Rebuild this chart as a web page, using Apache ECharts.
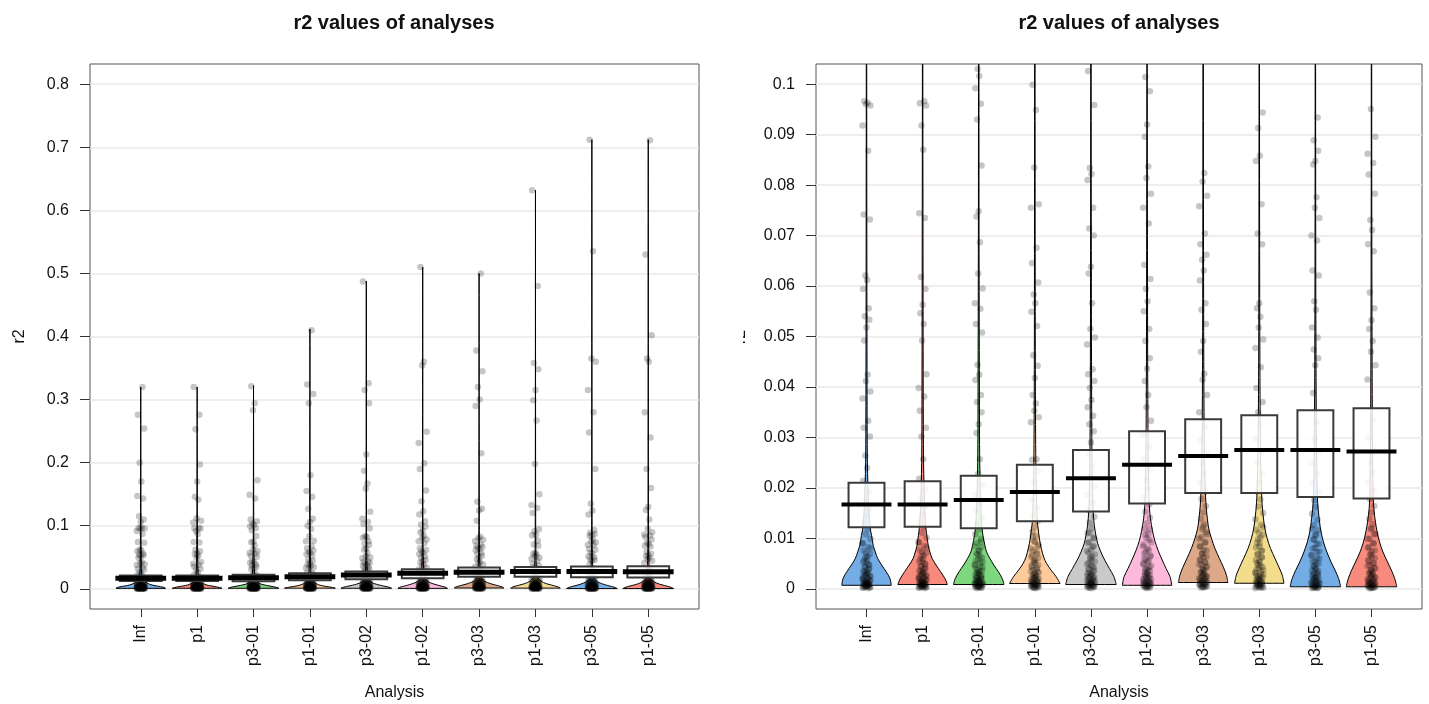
<!DOCTYPE html>
<html><head><meta charset="utf-8">
<script src="https://cdn.jsdelivr.net/npm/echarts@6/dist/echarts.min.js"></script>
<style>html,body{margin:0;padding:0;background:#fff}#c{width:1429px;height:704px}</style>
</head><body><div id="c"></div>
<script>
// ---------------- data ----------------
const categories = ['Inf','p1','p3-01','p1-01','p3-02','p1-02','p3-03','p1-03','p3-05','p1-05'];
// average line (mean) and inference band
const meanValues = [0.0167,0.0167,0.0176,0.0192,0.0219,0.0246,0.0263,0.0275,0.0275,0.0272];
const bandLow    = [0.0122,0.0123,0.0120,0.0134,0.0153,0.0169,0.0190,0.0190,0.0182,0.0179];
const bandHigh   = [0.0210,0.0213,0.0224,0.0246,0.0275,0.0312,0.0336,0.0344,0.0354,0.0358];
const maxValues  = [0.320,0.320,0.322,0.412,0.488,0.510,0.500,0.632,0.712,0.712];

// bean (violin) outline: [r2 value, half width in category units]
const beanInf  = [[0.0007,0.44],[0.0020,0.42],[0.0034,0.35],[0.0047,0.27],[0.0060,0.20],[0.0073,0.157],[0.0086,0.12],[0.0106,0.09],[0.0119,0.068],[0.016,0.04],[0.025,0.016],[0.04,0.01],[0.07,0.006],[0.1,0.004],[0.2,0.002]];
const beanP1   = [[0.00085,0.44],[0.0020,0.40],[0.0034,0.32],[0.0047,0.24],[0.0060,0.17],[0.0073,0.13],[0.0086,0.10],[0.0106,0.075],[0.0119,0.06],[0.016,0.038],[0.025,0.017],[0.04,0.011],[0.07,0.007],[0.1,0.004],[0.2,0.002]];
const beanP301 = [[0.00085,0.45],[0.0020,0.42],[0.0034,0.35],[0.0047,0.27],[0.0060,0.20],[0.0073,0.14],[0.0086,0.11],[0.0106,0.075],[0.0119,0.06],[0.016,0.038],[0.025,0.018],[0.04,0.012],[0.07,0.006],[0.1,0.004],[0.2,0.002]];
const beanP101 = [[0.00105,0.45],[0.0024,0.38],[0.0037,0.29],[0.0050,0.21],[0.0063,0.157],[0.0080,0.116],[0.0099,0.082],[0.0119,0.06],[0.0132,0.045],[0.018,0.03],[0.025,0.018],[0.04,0.01],[0.07,0.006],[0.1,0.004],[0.2,0.002]];
const beanP302 = [[0.00085,0.45],[0.0024,0.41],[0.0040,0.33],[0.0057,0.245],[0.0073,0.177],[0.0090,0.12],[0.0106,0.088],[0.0126,0.06],[0.0152,0.04],[0.02,0.026],[0.03,0.016],[0.045,0.01],[0.07,0.006],[0.1,0.004],[0.2,0.002]];
const beanP102 = [[0.0007,0.44],[0.0024,0.41],[0.0040,0.34],[0.0057,0.27],[0.0076,0.197],[0.0096,0.136],[0.0116,0.095],[0.0139,0.061],[0.0165,0.04],[0.022,0.026],[0.03,0.018],[0.045,0.011],[0.07,0.007],[0.1,0.004],[0.2,0.002]];
const beanP303 = [[0.00125,0.44],[0.0027,0.415],[0.0043,0.36],[0.0060,0.29],[0.0080,0.21],[0.0099,0.15],[0.0119,0.10],[0.0146,0.068],[0.0178,0.045],[0.024,0.028],[0.032,0.018],[0.045,0.011],[0.07,0.006],[0.1,0.004],[0.2,0.002]];
const beanP103 = [[0.0011,0.44],[0.0027,0.41],[0.0043,0.35],[0.0060,0.28],[0.0080,0.20],[0.0099,0.143],[0.0119,0.10],[0.0146,0.068],[0.0178,0.045],[0.024,0.028],[0.032,0.018],[0.045,0.011],[0.07,0.006],[0.1,0.004],[0.2,0.002]];
const beanP305 = [[0.0004,0.45],[0.0020,0.415],[0.0037,0.35],[0.0053,0.28],[0.0073,0.204],[0.0093,0.143],[0.0116,0.095],[0.0146,0.061],[0.0172,0.04],[0.024,0.025],[0.032,0.017],[0.045,0.011],[0.07,0.006],[0.1,0.004],[0.2,0.002]];
const beanP105 = [[0.0004,0.45],[0.0020,0.415],[0.0037,0.354],[0.0053,0.286],[0.0073,0.204],[0.0093,0.143],[0.0116,0.095],[0.0146,0.054],[0.0172,0.034],[0.024,0.022],[0.032,0.016],[0.045,0.011],[0.07,0.006],[0.1,0.004],[0.2,0.002]];

// observed r2 values (points)
const ptsInf  = [0.320,0.276,0.254,0.200,0.170,0.147,0.143,0.115,0.110,0.106,0.0966,0.0963,0.0960,0.0958,0.0918,0.0868,0.0742,0.0732,0.0621,0.0612,0.0594,0.0556,0.0540,0.0533,0.0518,0.0492,0.0424,0.0412,0.0391,0.0377,0.0333,0.0319,0.0302,0.0264,0.0240,
  0.0214,0.0193,0.0175,0.0158,0.0144,0.0131,0.0119,0.0108,0.0099,0.0091,0.0083,0.0076,0.0069,0.0063,0.0058,0.0053,0.0048,0.0044,0.0040,0.0036,0.0033,0.0030,0.0027,0.0025,0.0022,0.0020,0.0018,0.0016,0.0014,0.0013,0.0011,0.0010,0.0009,0.0008,0.0007,0.0006,0.0005,0.0004,0.0003,0.0002,
  0.0001,0.0002,0.0003,0.0004,0.0005,0.0006,0.0007,0.0008,0.0009,0.0010,0.0012,0.0013,0.0015,0.0017,0.0019,0.0021,0.0024,0.0026,0.0029,0.0032,0.0035,0.0039,0.0043,0.0047,0.0052,0.0057,0.0064,0.0071,0.0080,0.0090];
const ptsP1   = [0.320,0.276,0.253,0.197,0.170,0.146,0.141,0.112,0.108,0.105,0.0966,0.0962,0.0958,0.0918,0.0870,0.0744,0.0735,0.0618,0.0594,0.0563,0.0546,0.0525,0.0492,0.0425,0.0398,0.0381,0.0353,0.0319,0.0302,0.0257,
  0.0218,0.0197,0.0179,0.0162,0.0147,0.0134,0.0122,0.0111,0.0101,0.0093,0.0085,0.0077,0.0071,0.0065,0.0059,0.0054,0.0050,0.0045,0.0041,0.0038,0.0034,0.0031,0.0028,0.0026,0.0023,0.0021,0.0019,0.0017,0.0015,0.0013,0.0012,0.0011,0.0009,0.0008,0.0007,0.0006,0.0005,0.0004,0.0003,0.0002,
  0.0001,0.0002,0.0003,0.0004,0.0005,0.0006,0.0007,0.0008,0.0010,0.0011,0.0012,0.0014,0.0016,0.0018,0.0020,0.0022,0.0024,0.0027,0.0030,0.0033,0.0036,0.0040,0.0044,0.0048,0.0053,0.0059,0.0066,0.0073,0.0082,0.0092];
const ptsP301 = [0.321,0.294,0.283,0.172,0.149,0.143,0.110,0.107,0.1030,0.1016,0.0992,0.0961,0.0930,0.0839,0.0748,0.0738,0.0687,0.0625,0.0595,0.0566,0.0555,0.0525,0.0508,0.0444,0.0424,0.0414,0.0384,0.0370,0.0350,0.0326,0.0309,0.0257,
  0.0228,0.0206,0.0187,0.0170,0.0155,0.0141,0.0129,0.0118,0.0108,0.0099,0.0091,0.0083,0.0076,0.0070,0.0064,0.0058,0.0053,0.0048,0.0044,0.0040,0.0036,0.0033,0.0030,0.0027,0.0025,0.0022,0.0020,0.0018,0.0016,0.0014,0.0013,0.0011,0.0010,0.0009,0.0007,0.0006,0.0005,0.0004,0.0003,0.0002,
  0.0001,0.0002,0.0003,0.0004,0.0005,0.0006,0.0008,0.0009,0.0010,0.0012,0.0013,0.0015,0.0017,0.0019,0.0021,0.0023,0.0026,0.0029,0.0032,0.0035,0.0038,0.0042,0.0046,0.0051,0.0056,0.0062,0.0068,0.0075,0.0084,0.0094];
const ptsP101 = [0.410,0.324,0.309,0.294,0.180,0.155,0.146,0.127,0.111,0.106,0.0999,0.0949,0.0835,0.0762,0.0755,0.0676,0.0645,0.0607,0.0583,0.0566,0.0549,0.0521,0.0463,0.0442,0.0418,0.0384,0.0367,0.0353,0.0340,0.0330,0.0257,
  0.0256,0.0232,0.0211,0.0192,0.0175,0.0160,0.0146,0.0134,0.0123,0.0113,0.0104,0.0095,0.0087,0.0080,0.0073,0.0067,0.0061,0.0056,0.0051,0.0046,0.0042,0.0038,0.0034,0.0031,0.0028,0.0025,0.0022,0.0020,0.0018,0.0016,0.0014,0.0012,0.0011,0.0009,0.0008,0.0007,0.0005,0.0004,0.0003,0.0002,
  0.0001,0.0002,0.0003,0.0005,0.0006,0.0007,0.0008,0.0010,0.0011,0.0013,0.0015,0.0017,0.0019,0.0021,0.0023,0.0026,0.0029,0.0032,0.0035,0.0039,0.0043,0.0047,0.0052,0.0057,0.0063,0.0069,0.0076,0.0084,0.0093,0.0103];
const ptsP302 = [0.487,0.326,0.315,0.294,0.213,0.187,0.167,0.159,0.122,0.111,0.106,0.1026,0.0959,0.0834,0.0822,0.0810,0.0755,0.0714,0.0700,0.0638,0.0625,0.0566,0.0515,0.0498,0.0484,0.0435,0.0425,0.0412,0.0398,0.0374,0.0360,0.0343,0.0326,0.0312,
  0.0290,0.0266,0.0243,0.0222,0.0203,0.0186,0.0170,0.0156,0.0143,0.0131,0.0120,0.0110,0.0101,0.0093,0.0085,0.0078,0.0071,0.0065,0.0059,0.0054,0.0049,0.0044,0.0040,0.0036,0.0032,0.0029,0.0026,0.0023,0.0020,0.0018,0.0016,0.0014,0.0012,0.0010,0.0009,0.0007,0.0006,0.0005,0.0003,0.0002,
  0.0001,0.0002,0.0004,0.0005,0.0006,0.0008,0.0009,0.0011,0.0012,0.0014,0.0016,0.0018,0.0020,0.0023,0.0025,0.0028,0.0031,0.0034,0.0038,0.0042,0.0046,0.0051,0.0056,0.0062,0.0068,0.0075,0.0083,0.0091,0.0100,0.0111];
const ptsP102 = [0.510,0.360,0.354,0.249,0.231,0.199,0.190,0.156,0.139,0.123,0.118,0.107,0.1014,0.0986,0.0920,0.0896,0.0837,0.0814,0.0783,0.0755,0.0724,0.0642,0.0614,0.0594,0.0570,0.0550,0.0515,0.0491,0.0457,0.0436,0.0412,0.0384,0.0360,0.0333,
  0.0306,0.0281,0.0258,0.0236,0.0216,0.0198,0.0182,0.0167,0.0153,0.0141,0.0130,0.0119,0.0109,0.0100,0.0092,0.0084,0.0077,0.0070,0.0064,0.0058,0.0053,0.0048,0.0043,0.0039,0.0035,0.0031,0.0028,0.0025,0.0022,0.0019,0.0017,0.0015,0.0013,0.0011,0.0009,0.0008,0.0006,0.0005,0.0003,0.0002,
  0.0001,0.0003,0.0004,0.0005,0.0007,0.0008,0.0010,0.0012,0.0013,0.0015,0.0017,0.0020,0.0022,0.0025,0.0027,0.0030,0.0034,0.0037,0.0041,0.0045,0.0050,0.0055,0.0060,0.0066,0.0073,0.0080,0.0088,0.0097,0.0107,0.0118];
const ptsP303 = [0.500,0.378,0.345,0.320,0.300,0.290,0.215,0.138,0.127,0.124,0.108,0.0824,0.0807,0.0779,0.0758,0.0704,0.0683,0.0662,0.0652,0.0631,0.0611,0.0566,0.0553,0.0525,0.0491,0.0470,0.0426,0.0415,0.0384,0.0350,
  0.0320,0.0294,0.0270,0.0248,0.0228,0.0210,0.0193,0.0178,0.0164,0.0151,0.0139,0.0128,0.0118,0.0108,0.0099,0.0091,0.0083,0.0076,0.0069,0.0063,0.0057,0.0052,0.0047,0.0042,0.0038,0.0034,0.0030,0.0027,0.0024,0.0021,0.0018,0.0016,0.0014,0.0012,0.0010,0.0008,0.0007,0.0005,0.0004,0.0003,
  0.0002,0.0003,0.0005,0.0006,0.0008,0.0009,0.0011,0.0013,0.0015,0.0017,0.0019,0.0021,0.0024,0.0026,0.0029,0.0032,0.0036,0.0040,0.0044,0.0048,0.0053,0.0058,0.0064,0.0070,0.0077,0.0085,0.0093,0.0102,0.0112,0.0123];
const ptsP103 = [0.632,0.480,0.358,0.348,0.315,0.299,0.267,0.198,0.150,0.133,0.128,0.120,0.0944,0.0913,0.0858,0.0848,0.0762,0.0704,0.0683,0.0566,0.0556,0.0539,0.0518,0.0494,0.0477,0.0439,0.0398,0.0370,0.0350,
  0.0325,0.0298,0.0273,0.0250,0.0229,0.0210,0.0193,0.0177,0.0163,0.0150,0.0138,0.0127,0.0117,0.0107,0.0098,0.0090,0.0082,0.0075,0.0068,0.0062,0.0056,0.0051,0.0046,0.0041,0.0037,0.0033,0.0029,0.0026,0.0023,0.0020,0.0017,0.0015,0.0013,0.0011,0.0009,0.0007,0.0006,0.0004,0.0003,0.0002,
  0.0001,0.0002,0.0004,0.0005,0.0007,0.0008,0.0010,0.0011,0.0013,0.0015,0.0018,0.0020,0.0023,0.0025,0.0028,0.0031,0.0035,0.0039,0.0043,0.0047,0.0052,0.0057,0.0063,0.0069,0.0076,0.0084,0.0092,0.0101,0.0111,0.0122];
const ptsP305 = [0.712,0.535,0.365,0.360,0.315,0.280,0.248,0.190,0.135,0.124,0.118,0.0934,0.0889,0.0868,0.0848,0.0841,0.0776,0.0755,0.0735,0.0700,0.0690,0.0631,0.0621,0.0570,0.0553,0.0518,0.0498,0.0474,0.0457,0.0443,0.0388,
  0.0330,0.0297,0.0272,0.0249,0.0228,0.0209,0.0192,0.0176,0.0162,0.0149,0.0137,0.0126,0.0116,0.0106,0.0097,0.0089,0.0081,0.0074,0.0067,0.0061,0.0055,0.0050,0.0045,0.0040,0.0036,0.0032,0.0028,0.0025,0.0022,0.0019,0.0016,0.0014,0.0012,0.0010,0.0008,0.0006,0.0005,0.0003,0.0002,0.0001,
  0.0001,0.0002,0.0003,0.0004,0.0006,0.0007,0.0009,0.0010,0.0012,0.0014,0.0016,0.0018,0.0021,0.0023,0.0026,0.0029,0.0032,0.0036,0.0040,0.0044,0.0049,0.0054,0.0060,0.0066,0.0073,0.0080,0.0089,0.0098,0.0108,0.0119];
const ptsP105 = [0.711,0.530,0.402,0.365,0.360,0.280,0.240,0.190,0.160,0.130,0.125,0.110,0.0951,0.0896,0.0862,0.0844,0.0821,0.0783,0.0731,0.0711,0.0683,0.0669,0.0587,0.0556,0.0532,0.0515,0.0491,0.0470,0.0443,0.0415,
  0.0335,0.0300,0.0274,0.0251,0.0230,0.0211,0.0194,0.0178,0.0164,0.0151,0.0139,0.0128,0.0118,0.0108,0.0099,0.0091,0.0083,0.0076,0.0069,0.0063,0.0057,0.0051,0.0046,0.0041,0.0037,0.0033,0.0029,0.0025,0.0022,0.0019,0.0016,0.0014,0.0012,0.0010,0.0008,0.0006,0.0004,0.0003,0.0002,0.0001,
  0.0001,0.0002,0.0003,0.0005,0.0006,0.0007,0.0009,0.0011,0.0012,0.0014,0.0016,0.0019,0.0021,0.0024,0.0027,0.0030,0.0033,0.0037,0.0041,0.0045,0.0050,0.0055,0.0061,0.0067,0.0074,0.0081,0.0090,0.0099,0.0109,0.0120];

const leftTicks  = [0,0.1,0.2,0.3,0.4,0.5,0.6,0.7,0.8];
const rightTicks = [0,0.01,0.02,0.03,0.04,0.05,0.06,0.07,0.08,0.09,0.1];
const catPositions = [1,2,3,4,5,6,7,8,9,10];

// ---------------- styling ----------------
const beanColors = ['#74ADE5','#F88A7D','#7ED67E','#FDCB9B','#C9C9C9','#FCB9DB','#DCA888','#F3DD8D','#74ADE5','#F88A7D'];
const beans = [beanInf,beanP1,beanP301,beanP101,beanP302,beanP102,beanP303,beanP103,beanP305,beanP105];
const groupPoints = [ptsInf,ptsP1,ptsP301,ptsP101,ptsP302,ptsP102,ptsP303,ptsP103,ptsP305,ptsP105];
const jitter = [0.03,-0.05,0.06,-0.02,0.01,-0.06,0.04,-0.03,0.05,0.0,-0.04,0.02,-0.01,0.07,-0.07];
const FONT = "'Liberation Sans', Arial, Helvetica, sans-serif";

const chart = echarts.init(document.getElementById('c'));

function beanRender(params, api) {
  const g = params.dataIndex;
  const cx = api.value(0);
  const prof = beans[g].concat([[maxValues[g], 0]]);
  const leftSide = prof.map(p => api.coord([cx - p[1], p[0]])).reverse();
  const rightSide = prof.map(p => api.coord([cx + p[1], p[0]]));
  const pts = leftSide.concat(rightSide);
  let mnx = Infinity, mny = Infinity, mxx = -Infinity, mxy = -Infinity;
  pts.forEach(p => { mnx = Math.min(mnx, p[0]); mny = Math.min(mny, p[1]); mxx = Math.max(mxx, p[0]); mxy = Math.max(mxy, p[1]); });
  return {
    type: 'polygon',
    shape: { points: pts, smooth: 0.3, smoothConstraint: [[mnx, mny], [mxx, mxy]] },
    style: { fill: beanColors[g], stroke: '#000', lineWidth: 1 }
  };
}
function boxRenderFactory(boxHalf, medHalf, medWidth) {
  return function (params, api) {
    const g = params.dataIndex;
    const cx = api.value(0);
    const tl = api.coord([cx - boxHalf, bandHigh[g]]);
    const br = api.coord([cx + boxHalf, bandLow[g]]);
    const ml = api.coord([cx - medHalf, meanValues[g]]);
    const mr = api.coord([cx + medHalf, meanValues[g]]);
    return {
      type: 'group',
      children: [
        { type: 'rect', shape: { x: tl[0], y: tl[1], width: br[0] - tl[0], height: br[1] - tl[1] },
          style: { fill: 'rgba(255,255,255,0.85)', stroke: '#3a3a3a', lineWidth: 2 } },
        { type: 'line', shape: { x1: ml[0], y1: ml[1], x2: mr[0], y2: mr[1] },
          style: { stroke: '#000', lineWidth: medWidth } }
      ]
    };
  };
}
const pointData = [];
groupPoints.forEach((arr, g) => arr.forEach((v, i) => pointData.push([catPositions[g] + jitter[(i + g * 5) % jitter.length], v])));
const catData = catPositions.map(p => [p, 0]);

function fmt(v) { return String(parseFloat(Number(v).toFixed(4))); }

function xAxisFor(idx) {
  return {
    gridIndex: idx, type: 'value', min: 0.1, max: 10.9,
    axisLine: { show: false, onZero: false }, splitLine: { show: false },
    axisTick: { show: true, customValues: catPositions, length: 8, lineStyle: { color: '#333' } },
    axisLabel: { customValues: catPositions, rotate: 90, margin: 16, fontSize: 16, color: '#111', fontFamily: FONT,
      formatter: v => categories[Math.round(v) - 1] },
    name: 'Analysis', nameLocation: 'middle', nameGap: 76,
    nameTextStyle: { fontSize: 16, color: '#111', fontFamily: FONT }
  };
}
function yAxisFor(idx, mn, mx, ticks, showName) {
  return {
    gridIndex: idx, type: 'value', min: mn, max: mx,
    axisLine: { show: false, onZero: false },
    axisTick: { show: true, customValues: ticks, length: 10, lineStyle: { color: '#333' } },
    axisLabel: { customValues: ticks, margin: 21, fontSize: 16, color: '#111', fontFamily: FONT, formatter: fmt },
    splitLine: { show: true, lineStyle: { color: '#e8e8e8', width: 1.5 } },
    name: showName ? 'r2' : '', nameLocation: 'middle', nameGap: 62,
    nameTextStyle: { fontSize: 16, color: '#111', fontFamily: FONT }
  };
}

const series = [];
[0, 1].forEach(k => {
  series.push({ type: 'custom', xAxisIndex: k, yAxisIndex: k, data: catData, renderItem: beanRender, clip: true, z: 2, silent: true });
  series.push({ type: 'scatter', xAxisIndex: k, yAxisIndex: k, data: pointData, symbolSize: 6.5, clip: true, z: 3, silent: true,
    itemStyle: { color: 'rgba(0,0,0,0.28)' } });
  series.push({ type: 'custom', xAxisIndex: k, yAxisIndex: k, data: catData, clip: true, z: 4, silent: true,
    renderItem: k === 0 ? boxRenderFactory(0.37, 0.45, 5) : boxRenderFactory(0.32, 0.445, 4) });
});

chart.setOption({
  animation: false,
  backgroundColor: '#fff',
  title: [
    { text: 'r2 values of analyses', left: 394, top: 13, textAlign: 'center', padding: 0,
      textStyle: { fontSize: 20, fontWeight: 'bold', color: '#111', fontFamily: FONT } },
    { text: 'r2 values of analyses', left: 1119, top: 13, textAlign: 'center', padding: 0,
      textStyle: { fontSize: 20, fontWeight: 'bold', color: '#111', fontFamily: FONT } }
  ],
  grid: [
    { left: 90, top: 64, width: 609, height: 545, show: true, borderColor: '#555', borderWidth: 1, backgroundColor: 'transparent', containLabel: false, outerBoundsMode: 'none' },
    { left: 816, top: 64, width: 606, height: 545, show: true, borderColor: '#555', borderWidth: 1, backgroundColor: 'transparent', containLabel: false, outerBoundsMode: 'none' }
  ],
  xAxis: [xAxisFor(0), xAxisFor(1)],
  yAxis: [yAxisFor(0, -0.032, 0.832, leftTicks, true), yAxisFor(1, -0.004, 0.104, rightTicks, false)],
  graphic: [
    { type: 'text', x: 741, y: 337, rotation: Math.PI / 2, z: 10,
      style: { text: 'r2', fontSize: 16, fill: '#111', fontFamily: FONT, align: 'center', verticalAlign: 'middle' } },
    { type: 'rect', shape: { x: 705, y: 315, width: 38, height: 45 }, z: 11, style: { fill: '#fff' } }
  ],
  series: series
});
</script></body></html>
